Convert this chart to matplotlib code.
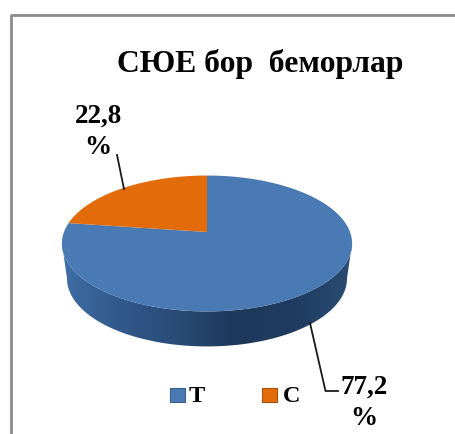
import numpy as np
import matplotlib
matplotlib.use("Agg")
import matplotlib.pyplot as plt
from matplotlib.colors import LinearSegmentedColormap
from matplotlib.patches import Polygon, Rectangle

title = "СЮЕ бор  беморлар"
categories = ["Т", "С"]
values = [77.2, 22.8]
labels = ["77,2\n%", "22,8\n%"]
colors = ["#4a7ab4", "#e36c0a"]
side_colors = ["#3f6ea6", "#32598b", "#294b76", "#1d3859", "#1f3c60", "#2b4c74"]

plt.rcParams["font.family"] = "Liberation Serif"
plt.rcParams["font.weight"] = "bold"

fig = plt.figure(figsize=(4.55, 4.34), dpi=100)
ax = fig.add_axes([0, 0, 1, 1])

# tilted disc, circle -> screen with a bit of perspective
cx, cy = 207, 243.5
a, b, p, c = 143, 66, 0.169, 11.5
depth = 35
bottom_scale = 0.965


def project(theta):
    X, Y = np.cos(theta), np.sin(theta)
    w = 1 + p * Y
    return cx + a * X / w, cy - (b * Y / w + c)


# side of the disc, the lower rim is a little narrower
t = np.linspace(0, 2 * np.pi, 721)
ex, ey = project(t)
left, right = ex.argmin(), ex.argmax()
lower = np.arange(left, right + 1) if left < right else np.r_[left:721, 0:right + 1]
rim_x = cx + (ex[lower] - cx) * bottom_scale
side = np.r_[np.c_[ex[lower], ey[lower]], np.c_[rim_x, ey[lower] + depth][::-1]]
cmap = LinearSegmentedColormap.from_list("side", side_colors)
im = ax.imshow(np.linspace(0, 1, 256)[None, :], cmap=cmap, aspect="auto",
               extent=[ex.min(), ex.max(), cy + 120, cy], zorder=2)
im.set_clip_path(Polygon(side, transform=ax.transData))

# top face, slices run clockwise from 12 o'clock
start = np.pi / 2
for value, color in zip(values, colors):
    sweep = 2 * np.pi * value / sum(values)
    arc = np.linspace(start, start - sweep, 300)
    x, y = project(arc)
    ax.fill(np.r_[cx, x], np.r_[cy - c, y], color=color, lw=0, zorder=3)
    start -= sweep

# leader lines
ax.plot([117, 124], [155, 189], color="#1a1a1a", lw=1.3, zorder=4)
ax.plot([310, 325.5, 338], [323, 391, 391], color="#1a1a1a", lw=1.3, zorder=4)

# data labels
ax.text(364, 403, labels[0], ha="center", va="center", fontsize=19.5, linespacing=1.32)
ax.text(98, 132, labels[1], ha="center", va="center", fontsize=19.5, linespacing=1.32)

ax.text(260, 64, title, ha="center", va="center", fontsize=22.8)

# legend
for x_box, x_text, name, color in zip([170, 262], [197, 292], categories, colors):
    ax.add_patch(Rectangle((x_box, 387.5), 15, 14, facecolor=color, edgecolor="#3a5f8a" if name == "Т" else "#a85008", lw=0.8))
    ax.text(x_text, 396, name, ha="center", va="center", fontsize=17.5)

# frame runs off the right and bottom
ax.plot([11, 11, 455], [434, 15, 15], color="#8c8c8c", lw=2)

ax.set_xlim(0, 455)
ax.set_ylim(434, 0)
ax.axis("off")

fig.savefig("out.png", dpi=100)
